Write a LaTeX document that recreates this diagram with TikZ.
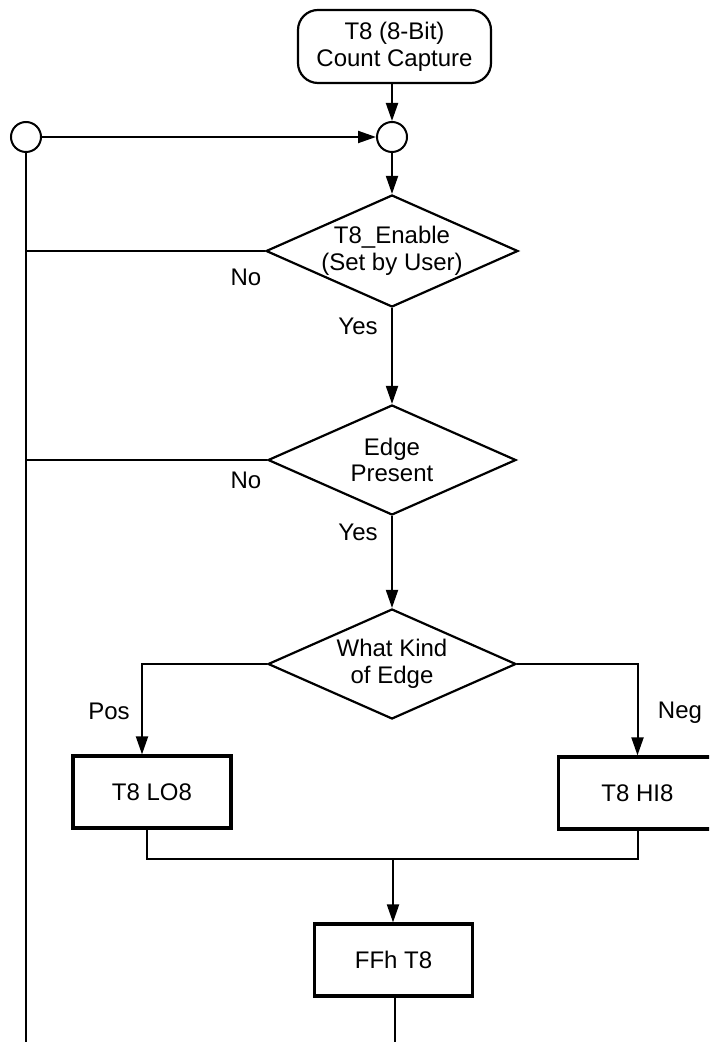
\documentclass[tikz,border=0pt]{standalone}
\usepackage{fontspec}
\setmainfont{Liberation Sans}
\usetikzlibrary{shapes.geometric,arrows.meta}
\begin{document}
\begin{tikzpicture}[x=0.5pt,y=-0.5pt,
  every node/.style={font=\fontsize{12}{13.4}\selectfont},
  conn/.style={line width=1pt},
  arr/.style={conn,-{Triangle[length=9pt,width=6pt]}},
  term/.style={draw,line width=1.1pt,rounded corners=10pt,minimum width=96.5pt,minimum height=36.5pt,align=center,inner sep=0pt},
  joint/.style={draw,circle,line width=1pt,minimum size=15pt,inner sep=0pt},
  dia/.style={draw,diamond,line width=1.1pt,aspect=2.25,minimum width=124pt,minimum height=55pt,inner sep=0pt,align=center},
  proc/.style={draw,line width=1.6pt,minimum width=79pt,minimum height=36pt,inner sep=0pt},
  lbl/.style={inner sep=0pt}]
\clip (0,0) rectangle (709,1042);
\node[term] (start) at (394.5,46.5) {T8 (8-Bit)\\Count Capture};
\node[joint] (c1) at (392,137) {};
\node[joint] (c0) at (26,137) {};
\node[dia] (d1) at (392,251) {T8\_Enable\\(Set by User)};
\node[dia] (d2) at (392,460) {Edge\\Present};
\node[dia] (d3) at (392,664) {What Kind\\of Edge};
\node[proc] (lo) at (152,792) {T8 LO8};
\node[proc] (hi) at (637.5,793) {T8 HI8};
\node[proc] (ff) at (393.5,960) {FFh T8};
\coordinate (mj) at (393,859);
\coordinate (endl) at (26,1042);
\coordinate (endf) at (395,1042);

\node[lbl] at (246,277) {No};
\node[lbl] at (246,480) {No};
\node[lbl] at (358,326) {Yes};
\node[lbl] at (358,532) {Yes};
\node[lbl] at (109,711) {Pos};
\node[lbl] at (680,713) {Neg};

\draw[arr] (start.south -| c1) -- (c1);
\draw[arr] (c0) -- (c1);
\draw[arr] (c1) -- (d1);
\draw[arr] (d1) -- (d2);
\draw[arr] (d2) -- (d3);
\draw[conn] (c0.south) -- (endl);
\draw[conn] (d1.west) -- (c0.south |- d1.west);
\draw[conn] (d2.west) -- (c0.south |- d2.west);
\draw[arr] (d3.west) -| ([xshift=-5pt]lo.north);
\draw[arr] (d3.east) -| (hi.north);
\draw[conn] ([xshift=-2.5pt]lo.south) |- (mj) -| (hi.south);
\draw[arr] (mj) -- (mj |- ff.north);
\draw[conn] (ff.south -| endf) -- (endf);
\end{tikzpicture}
\end{document}
